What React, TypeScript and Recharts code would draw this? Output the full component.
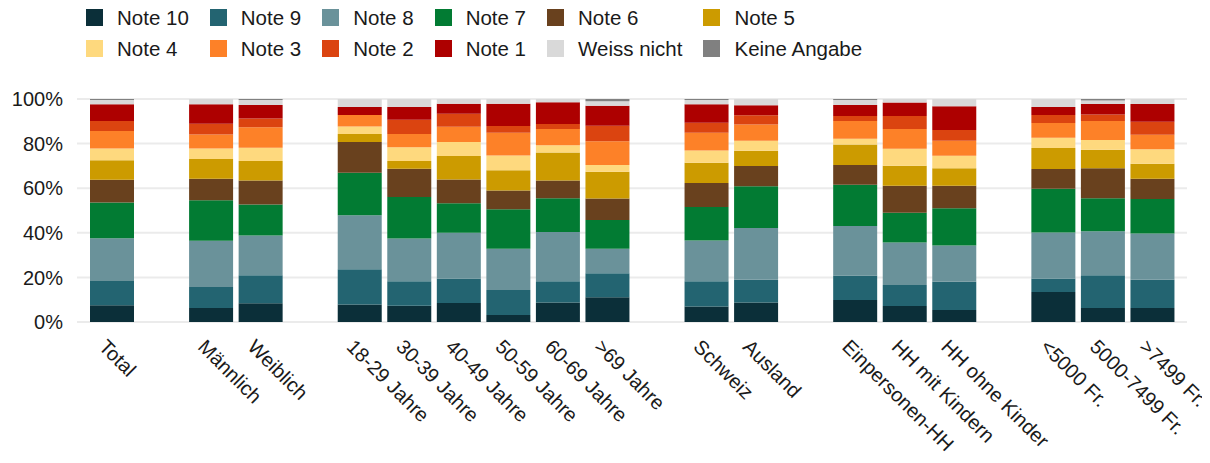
import { Bar, BarChart, CartesianGrid, XAxis, YAxis } from "recharts";

// real groups; a blank slot is inserted before each index in gapBefore
const categories = [
  "Total",
  "Männlich",
  "Weiblich",
  "18-29 Jahre",
  "30-39 Jahre",
  "40-49 Jahre",
  "50-59 Jahre",
  "60-69 Jahre",
  ">69 Jahre",
  "Schweiz",
  "Ausland",
  "Einpersonen-HH",
  "HH mit Kindern",
  "HH ohne Kinder",
  "<5000 Fr.",
  "5000-7499 Fr.",
  ">7499 Fr.",
];
const gapBefore = [1, 3, 9, 11, 14];

const note10 = [7.5, 6.3, 8.4, 7.9, 7.3, 8.5, 3.1, 8.8, 11.1, 7.0, 8.8, 9.9, 7.2, 5.4, 13.5, 6.3, 6.3];
const note9 = [10.9, 9.4, 12.6, 15.8, 11.0, 11.0, 11.3, 9.5, 10.8, 11.3, 10.2, 10.9, 9.4, 12.6, 6.0, 14.7, 12.6];
const note8 = [19.2, 20.7, 17.8, 24.2, 19.1, 20.5, 18.5, 22.1, 10.9, 18.2, 23.2, 22.2, 19.0, 16.3, 20.6, 19.7, 20.8];
const note7 = [16.0, 18.2, 13.9, 19.0, 18.6, 13.3, 17.7, 15.1, 12.9, 15.1, 18.7, 18.5, 13.4, 16.7, 19.6, 14.8, 15.5];
const note6 = [10.2, 9.6, 10.8, 13.8, 12.7, 10.6, 8.4, 8.0, 9.7, 10.7, 9.0, 8.9, 12.1, 10.1, 8.9, 13.4, 9.0];
const note5 = [8.7, 8.9, 8.7, 3.6, 3.5, 10.5, 9.1, 12.5, 12.0, 9.1, 6.9, 9.2, 9.0, 7.9, 9.4, 8.3, 6.8];
const note4 = [5.3, 4.7, 5.9, 3.4, 6.2, 6.3, 6.6, 3.3, 3.0, 5.5, 4.5, 2.6, 7.6, 5.6, 4.6, 4.4, 6.5];
const note3 = [7.8, 6.3, 9.2, 5.1, 5.9, 6.9, 10.2, 7.2, 10.7, 8.0, 7.3, 7.9, 8.8, 6.7, 6.6, 8.5, 6.5];
const note2 = [4.5, 4.8, 4.0, 0, 6.4, 5.8, 3.0, 2.3, 6.9, 4.5, 4.1, 2.3, 5.9, 4.8, 3.6, 2.9, 5.8];
const note1 = [7.5, 8.7, 6.0, 3.6, 5.7, 4.5, 10.0, 9.7, 9.0, 8.2, 4.5, 4.9, 6.0, 10.6, 3.6, 4.8, 8.0];
const weissNicht = [2.0, 2.4, 2.3, 3.6, 3.6, 2.1, 2.1, 1.5, 2.0, 2.0, 2.8, 2.3, 1.6, 3.3, 3.6, 1.5, 2.2];
const keineAngabe = [0.4, 0, 0.4, 0, 0, 0, 0, 0, 1.0, 0.4, 0, 0.4, 0, 0, 0, 0.7, 0];

const yTicks = [0, 20, 40, 60, 80, 100];

const series = [
  { key: "n10", name: "Note 10", values: note10, color: "#0b2f39" },
  { key: "n9", name: "Note 9", values: note9, color: "#236471" },
  { key: "n8", name: "Note 8", values: note8, color: "#6a929a" },
  { key: "n7", name: "Note 7", values: note7, color: "#027b33" },
  { key: "n6", name: "Note 6", values: note6, color: "#69411e" },
  { key: "n5", name: "Note 5", values: note5, color: "#cc9b00" },
  { key: "n4", name: "Note 4", values: note4, color: "#fed97e" },
  { key: "n3", name: "Note 3", values: note3, color: "#fd8128" },
  { key: "n2", name: "Note 2", values: note2, color: "#db4410" },
  { key: "n1", name: "Note 1", values: note1, color: "#ad0000" },
  { key: "wn", name: "Weiss nicht", values: weissNicht, color: "#d9d9d9" },
  { key: "ka", name: "Keine Angabe", values: keineAngabe, color: "#808080" },
];

const data: Record<string, string | number>[] = [];
categories.forEach((cat, i) => {
  if (gapBefore.includes(i)) data.push({ id: `gap${i}`, label: "" });
  const row: Record<string, string | number> = { id: `c${i}`, label: cat };
  series.forEach((s) => {
    row[s.key] = s.values[i];
  });
  data.push(row);
});
const labelById: Record<string, string> = {};
data.forEach((d) => {
  labelById[String(d.id)] = String(d.label);
});

const font = "'Liberation Sans', Arial, sans-serif";

const XTick = (props: any) => {
  const { x, y, payload } = props;
  const text = labelById[payload.value];
  if (!text) return null;
  const ax = x - 14;
  const ay = y + 26;
  return (
    <text
      x={ax}
      y={ay}
      transform={`rotate(45, ${ax}, ${ay})`}
      textAnchor="start"
      fontSize={20}
      fontFamily={font}
      fill="#1a1a1a"
    >
      {text}
    </text>
  );
};

export default function App() {
  return (
    <div style={{ position: "relative", width: 1202, height: 455, fontFamily: font }}>
      <div
        style={{
          position: "absolute",
          left: 78,
          top: -2,
          display: "grid",
          gridTemplateColumns: "repeat(6, auto)",
          columnGap: 21,
          rowGap: 8,
          zIndex: 1,
        }}
      >
        {series.map((s) => (
          <div key={s.key} style={{ display: "flex", alignItems: "center", height: 23 }}>
            <span style={{ width: 17, height: 17, background: s.color, marginRight: 14 }} />
            <span style={{ fontSize: 20.5, color: "#1a1a1a", whiteSpace: "nowrap" }}>{s.name}</span>
          </div>
        ))}
      </div>
      <BarChart
        width={1202}
        height={455}
        data={data}
        margin={{ top: 91, right: 23, left: 0, bottom: 0 }}
        barSize={44}
      >
        <CartesianGrid vertical={false} stroke="#ebebeb" strokeWidth={2} />
        <XAxis
          dataKey="id"
          interval={0}
          tick={<XTick />}
          tickLine={false}
          axisLine={false}
          tickSize={0}
          tickMargin={0}
          height={141}
          padding={{ left: 10, right: 10 }}
        />
        <YAxis
          domain={[0, 100]}
          ticks={yTicks}
          tickFormatter={(v) => `${v}%`}
          tick={{ fontSize: 20, fill: "#1a1a1a", fontFamily: font }}
          tickLine={false}
          axisLine={false}
          tickSize={0}
          tickMargin={14}
          width={69}
          allowDataOverflow
        />
        {series.map((s) => (
          <Bar key={s.key} dataKey={s.key} name={s.name} stackId="a" fill={s.color} isAnimationActive={false} />
        ))}
      </BarChart>
    </div>
  );
}
